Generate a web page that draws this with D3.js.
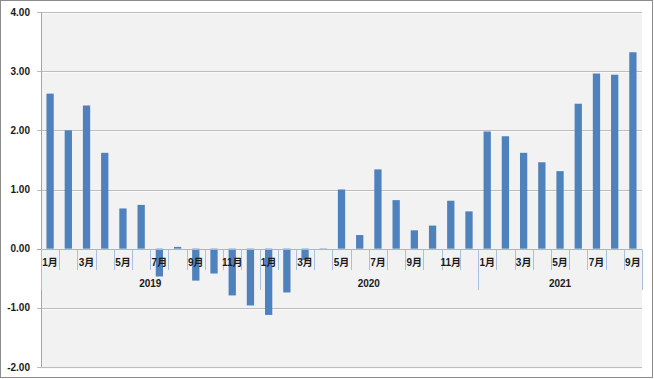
<!DOCTYPE html>
<html><head><meta charset="utf-8">
<script src="https://cdn.jsdelivr.net/npm/d3@7"></script>
<style>body{margin:0;background:#fff}svg{display:block}text{font-family:"Liberation Sans","Noto Sans CJK SC",sans-serif;font-weight:bold;fill:#1a1a1a}</style>
</head><body>
<svg id="c" width="654" height="379"></svg>
<script>
const years = ["2019", "2020", "2021"];
const monthsPerYear = [12, 12, 9];
const monthLabels = ["1月","","3月","","5月","","7月","","9月","","11月",""];
const values = [2.62, 2.00, 2.42, 1.62, 0.68, 0.74, -0.47, 0.03, -0.54, -0.42, -0.79, -0.96,
                -1.12, -0.74, -0.19, -0.01, 1.00, 0.23, 1.34, 0.82, 0.31, 0.39, 0.81, 0.63,
                1.98, 1.90, 1.62, 1.46, 1.31, 2.45, 2.96, 2.94, 3.32];
const yTicks = [4, 3, 2, 1, 0, -1, -2];

const cats = [];
years.forEach((y, yi) => { for (let m = 0; m < monthsPerYear[yi]; m++) cats.push({year: y, m, label: monthLabels[m]}); });
cats.forEach((c, i) => c.value = values[i]);

const svg = d3.select("#c");
const L = 41, R = 642, T = 12, B = 367;
const x = d3.scaleBand().domain(d3.range(cats.length)).range([L, R]).paddingInner(0.6).paddingOuter(0.3);
const xc = d3.scaleBand().domain(d3.range(cats.length)).range([L, R]).padding(0);
const y = d3.scaleLinear().domain([-2, 4]).range([B, T]);

svg.append("rect").attr("x", 0.5).attr("y", 0.5).attr("width", 652).attr("height", 377)
  .attr("fill", "#fff").attr("stroke", "#8c8c8c");
svg.append("rect").attr("x", L).attr("y", T).attr("width", R - L).attr("height", B - T).attr("fill", "#f2f2f2");

// gridlines
yTicks.filter(v => v !== 0).forEach(v => {
  const yy = Math.round(y(v));
  svg.append("line").attr("x1", L - 4).attr("x2", R).attr("y1", yy + 0.5).attr("y2", yy + 0.5).attr("stroke", "#bdbdbd");
  svg.append("line").attr("x1", L).attr("x2", R).attr("y1", yy + 1.5).attr("y2", yy + 1.5).attr("stroke", "#fafafa");
});
// y axis
svg.append("line").attr("x1", L + 0.5).attr("x2", L + 0.5).attr("y1", T).attr("y2", B).attr("stroke", "#a6a6a6");
svg.append("line").attr("x1", L - 4).attr("x2", L).attr("y1", Math.round(y(0)) + 0.5).attr("y2", Math.round(y(0)) + 0.5).attr("stroke", "#a6a6a6");
svg.selectAll(".yl").data(yTicks).enter().append("text")
  .attr("x", 30).attr("y", d => y(d) + 3.5).attr("text-anchor", "end").attr("font-size", 10)
  .text(d => d.toFixed(2));

// bars
svg.selectAll(".bar").data(cats).enter().append("rect")
  .attr("x", (d, i) => x(i)).attr("width", x.bandwidth())
  .attr("y", d => y(Math.max(0, d.value)))
  .attr("height", d => Math.max(0.6, Math.abs(y(d.value) - y(0))))
  .attr("fill", "#4f81bd");

// zero axis line
const y0 = Math.round(y(0)) + 0.5;
svg.append("line").attr("x1", L).attr("x2", R).attr("y1", y0).attr("y2", y0).attr("stroke", "#9fb8d9");

// category separators
let start = 0; const yearBounds = [0];
monthsPerYear.forEach(n => { start += n; yearBounds.push(start); });
d3.range(cats.length + 1).forEach(i => {
  const xx = Math.round(i < cats.length ? xc(i) : R) + 0.5;
  const isYear = yearBounds.includes(i);
  svg.append("line").attr("x1", xx).attr("x2", xx).attr("y1", y0).attr("y2", isYear ? 290 : 270)
    .attr("stroke", "#a9c0e0");
});

// month labels
svg.selectAll(".ml").data(cats).enter().append("text")
  .attr("x", (d, i) => xc(i) + xc.bandwidth() / 2).attr("y", 266).attr("text-anchor", "middle")
  .attr("font-size", 10).text(d => d.label);

// year labels
years.forEach((yr, yi) => {
  const x0 = xc(yearBounds[yi]);
  const x1 = yearBounds[yi + 1] < cats.length ? xc(yearBounds[yi + 1]) : R;
  svg.append("text").attr("x", (x0 + x1) / 2).attr("y", 287).attr("text-anchor", "middle")
    .attr("font-size", 10).text(yr);
});
</script>
</body></html>
